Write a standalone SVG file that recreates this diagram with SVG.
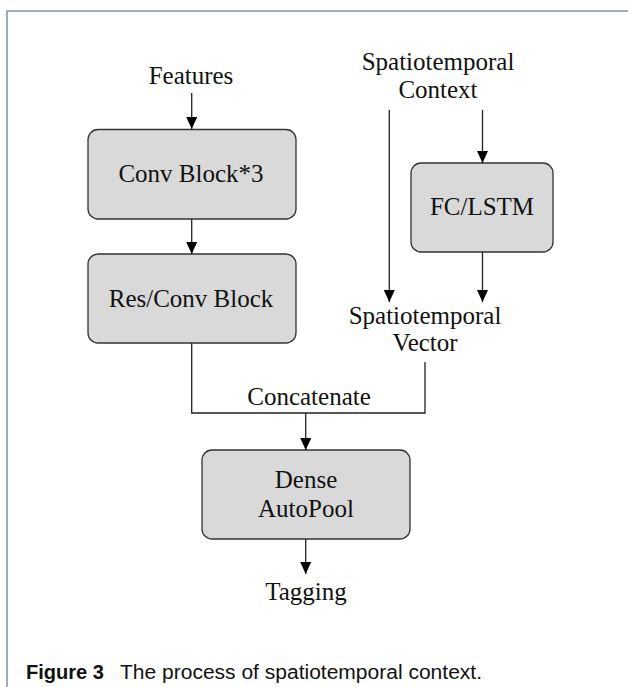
<svg xmlns="http://www.w3.org/2000/svg" width="628" height="687" viewBox="0 0 628 687">
<defs>
<marker id="ah" markerWidth="12" markerHeight="11" refX="12" refY="5.5" orient="auto" markerUnits="userSpaceOnUse">
<path d="M0,0 L12,5.5 L0,11 Z" fill="#000"/>
</marker>
<style>
.t{font-family:"Liberation Serif","Times New Roman",serif;font-size:25px;fill:#111;text-anchor:middle}
.box{fill:#d9d9d9;stroke:#333;stroke-width:1.3}
.ln{fill:none;stroke:#222;stroke-width:1.3}
.cap{font-family:"Liberation Sans",Arial,sans-serif;font-size:20px;fill:#111}
</style>
</defs>
<rect width="628" height="687" fill="#fff"/>
<path d="M7,700 L7,11 L640,11" fill="none" stroke="#8193ad" stroke-width="1.5"/>
<g id="features"><text class="t" x="191" y="84">Features</text></g>
<g id="context"><text class="t" x="438" y="70">Spatiotemporal</text><text class="t" x="438" y="98">Context</text></g>
<g id="conv"><rect class="box" x="88" y="129.5" width="208" height="89.5" rx="10"/><text class="t" x="191" y="182">Conv Block*3</text></g>
<g id="res"><rect class="box" x="88" y="254" width="208" height="89" rx="10"/><text class="t" x="191" y="307">Res/Conv Block</text></g>
<g id="fc"><rect class="box" x="411" y="163" width="142" height="89" rx="10"/><text class="t" x="482" y="215">FC/LSTM</text></g>
<g id="vector"><text class="t" x="425" y="324">Spatiotemporal</text><text class="t" x="425" y="351">Vector</text></g>
<g id="concat"><text class="t" x="309" y="405">Concatenate</text></g>
<g id="dense"><rect class="box" x="202" y="450" width="208" height="89" rx="10"/><text class="t" x="306" y="488">Dense</text><text class="t" x="306" y="517">AutoPool</text></g>
<g id="tagging"><text class="t" x="306" y="600">Tagging</text></g>
<g id="connectors">
<line class="ln" x1="191.7" y1="93" x2="191.7" y2="129" marker-end="url(#ah)"/>
<line class="ln" x1="191.7" y1="219" x2="191.7" y2="254" marker-end="url(#ah)"/>
<line class="ln" x1="482.5" y1="110" x2="482.5" y2="163" marker-end="url(#ah)"/>
<line class="ln" x1="389.3" y1="110" x2="389.3" y2="302" marker-end="url(#ah)"/>
<line class="ln" x1="482.5" y1="252" x2="482.5" y2="302" marker-end="url(#ah)"/>
<path class="ln" d="M191.7,343 L191.7,413 L425,413 L425,362"/>
<line class="ln" x1="305.7" y1="413" x2="305.7" y2="450" marker-end="url(#ah)"/>
<line class="ln" x1="305.7" y1="539" x2="305.7" y2="574" marker-end="url(#ah)"/>
</g>
<g id="caption">
<text class="cap" x="26" y="679" font-weight="bold" textLength="78" lengthAdjust="spacingAndGlyphs">Figure 3</text>
<text class="cap" x="120" y="679" textLength="362" lengthAdjust="spacingAndGlyphs">The process of spatiotemporal context.</text>
</g>
</svg>
